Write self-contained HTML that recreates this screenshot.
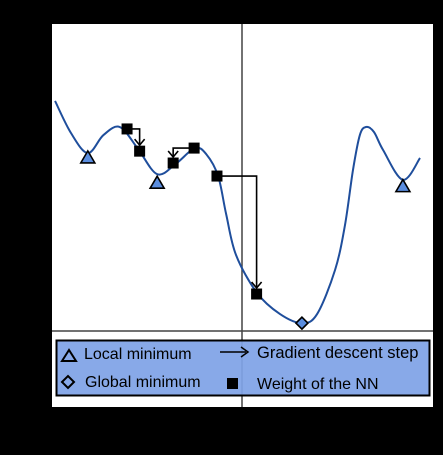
<!DOCTYPE html>
<html><head><meta charset="utf-8"><style>
html,body{margin:0;padding:0;background:#000;}
svg{display:block;font-family:"Liberation Sans",Calibri,sans-serif;}
</style></head><body>
<svg id="chart" width="443" height="455" viewBox="0 0 443 455" xmlns="http://www.w3.org/2000/svg">
<rect x="0" y="0" width="443" height="455" fill="#000"/>
<rect x="52" y="24" width="381" height="383" fill="#fff"/>
<line x1="242" y1="24" x2="242" y2="407" stroke="#444" stroke-width="1.5"/>
<line x1="52" y1="331" x2="433" y2="331" stroke="#444" stroke-width="1.5"/>
<g id="marks"></g>
<g>
<rect x="56.5" y="340.5" width="373" height="55" fill="#7fa2e6" fill-opacity="0.93" stroke="#000" stroke-width="2"/>
<path d="M62,361 L69,350 L76,361 Z" fill="none" stroke="#000" stroke-width="2"/>
<text x="84" y="359" font-size="16" fill="#000">Local minimum</text>
<path d="M62,382 L68,376 L74,382 L68,388 Z" fill="none" stroke="#000" stroke-width="2"/>
<text x="85" y="387" font-size="16" fill="#000">Global minimum</text>
<line x1="220" y1="352" x2="246" y2="352" stroke="#000" stroke-width="1.5"/>
<path d="M241,347 L248,352 L241,357" fill="none" stroke="#000" stroke-width="1.5"/>
<text x="257" y="358" font-size="16.5" fill="#000">Gradient descent step</text>
<rect x="227" y="378" width="11" height="11" fill="#000"/>
<text x="257" y="389" font-size="16" fill="#000">Weight of the NN</text>
</g>
</svg>
<script>
// data coordinates: x in [0,100] across plot, y in [0,100] (loss, higher = up)
const curveX = [0.8, 5, 9.4, 13.5, 17.8, 22.5, 27.6, 32.5, 37.5, 40.5, 43.6, 45.7, 48.3, 53.8, 59.8, 65.6, 69.6, 74.3, 76.9, 79, 80.8, 82.4, 84.5, 86.9, 92.1, 96.6];
const curveY = [79.9, 71.5, 66.3, 71, 73.1, 67.5, 60.8, 63.5, 67.6, 66, 60.3, 50.4, 39.7, 29.8, 24.3, 21.9, 24.3, 35.8, 47.5, 61.9, 71, 73.1, 71.8, 67.1, 59.3, 65];
const triX = [9.4, 27.6, 92.1];
const triY = [65.3, 58.7, 57.8];
const sqX = [19.7, 23, 31.8, 37.3, 43.3, 53.7];
const sqY = [72.6, 66.8, 63.7, 67.6, 60.3, 29.5];
const diaX = [65.6];
const diaY = [21.9];
const arrowFrom = [0, 3, 4];
const arrowTo = [1, 2, 5];

const X0=52, X1=433, Y0=407, Y1=24;
const sx = v => X0 + v/100*(X1-X0);
const sy = v => Y0 - v/100*(Y0-Y1);
const NS="http://www.w3.org/2000/svg";
const g=document.getElementById('marks');
function mk(t,a){const e=document.createElementNS(NS,t);for(const k in a)e.setAttribute(k,a[k]);g.appendChild(e);return e;}

const P=curveX.map((x,i)=>[sx(x),sy(curveY[i])]);
let d=`M${P[0][0]},${P[0][1]}`;
for(let i=0;i<P.length-1;i++){
 const p0=P[Math.max(0,i-1)],p1=P[i],p2=P[i+1],p3=P[Math.min(P.length-1,i+2)];
 const c1=[p1[0]+(p2[0]-p0[0])/6,p1[1]+(p2[1]-p0[1])/6];
 const c2=[p2[0]-(p3[0]-p1[0])/6,p2[1]-(p3[1]-p1[1])/6];
 d+=` C${c1[0]},${c1[1]} ${c2[0]},${c2[1]} ${p2[0]},${p2[1]}`;
}
const curve=mk('path',{d:d,fill:'none',stroke:'#1f4e9c','stroke-width':2});



arrowFrom.forEach((f,i)=>{
 const t=arrowTo[i];
 const x1=sx(sqX[f]),y1=sy(sqY[f]),x2=sx(sqX[t]),y2=sy(sqY[t])-6;
 const a=mk('path',{d:`M${x1},${y1} L${x2},${y1} L${x2},${y2}`,fill:'none',stroke:'#000','stroke-width':1.6});
 
 
 const h=mk('path',{d:`M${x2-5},${y2-6} L${x2},${y2} L${x2+5},${y2-6}`,fill:'none',stroke:'#000','stroke-width':1.6});
 
 
});

triX.forEach((x,i)=>{
 const cx=sx(x),cy=sy(triY[i]);
 const t=mk('path',{d:`M${cx-7},${cy+6} L${cx},${cy-6} L${cx+7},${cy+6} Z`,fill:'#5b8ee0',stroke:'#000','stroke-width':1.6});
 
 
});
sqX.forEach((x,i)=>{
 const cx=sx(x),cy=sy(sqY[i]);
 const s=mk('rect',{x:cx-5.5,y:cy-5.5,width:11,height:11,fill:'#000'});
 
 
});
diaX.forEach((x,i)=>{
 const cx=sx(x),cy=sy(diaY[i]);
 const m=mk('path',{d:`M${cx-6},${cy} L${cx},${cy-6} L${cx+6},${cy} L${cx},${cy+6} Z`,fill:'#5b8ee0',stroke:'#000','stroke-width':1.6});
 
 
});
</script>
</body></html>
